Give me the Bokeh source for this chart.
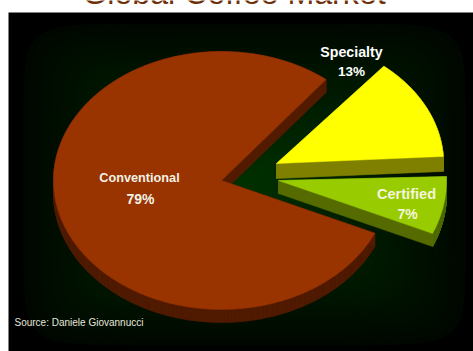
import numpy as np
from bokeh.core.properties import value
from bokeh.embed import file_html
from bokeh.models import ColumnDataSource, Range1d
from bokeh.plotting import figure
from bokeh.resources import INLINE

# Market shares, in percent
categories = ["Conventional", "Specialty", "Certified"]
shares = [79, 13, 7]
share_labels = ["79%", "13%", "7%"]
title_text = "Global Coffee Market"
source_text = "Source: Daniele Giovannucci"

W, H = 473, 351
FONT = value("Liberation Sans")

# Projected pie: each slice has its own apex (exploded), radii, start angle and wall height
slice_style = {
    "Conventional": dict(apex=(221, 180), rx=168, ry=129, start=51.5, depth=13, top="#993300", side="#521b00"),
    "Specialty": dict(apex=(276, 163), rx=167, ry=127, start=50.0, depth=15, top="#ffff00", side="#808000"),
    "Certified": dict(apex=(278, 180), rx=168, ry=133, start=1.7, depth=13, top="#99cc00", side="#556b00"),
}

p = figure(width=W, height=H, x_range=Range1d(0, W), y_range=Range1d(H, 0),
           output_backend="svg", toolbar_location=None, min_border=0,
           background_fill_color="white", border_fill_color="white", outline_line_color=None)
p.axis.visible = False
p.grid.visible = False

# Dark panel with a soft green glow towards the middle, built from nested rectangular bands
p.quad(left=[8], right=[W], top=[12], bottom=[H], fill_color="black", line_color=None)
cx, cy, hw, hh = 244, 184, 221, 161
t = np.linspace(0, 2 * np.pi, 160)
BANDS = 40
for i in range(BANDS):
    f = 1 - i / BANDS
    gx = cx + hw * f * np.sign(np.cos(t)) * np.abs(np.cos(t)) ** 0.22
    gy = cy + hh * f * np.sign(np.sin(t)) * np.abs(np.sin(t)) ** 0.22
    g = int(7 + 42 * (1 - f) ** 0.9)
    p.patch(gx, gy, fill_color=f"#00{g:02x}00", line_color=None)


def outline(style, sweep):
    """Boundary of a slice on the squashed pie, apex first."""
    ax, ay = style["apex"]
    step = 1 if sweep > 180 else -1
    theta = np.radians(np.linspace(style["start"], style["start"] + step * sweep, 360))
    return (np.r_[ax, ax + style["rx"] * np.cos(theta)], np.r_[ay, ay - style["ry"] * np.sin(theta)])


# Side walls first, then the top faces above them
for cat, share in zip(categories, shares):
    st = slice_style[cat]
    xs, ys = outline(st, 3.6 * share)
    nx, ny = np.roll(xs, -1), np.roll(ys, -1)
    d = st["depth"]
    src = ColumnDataSource(dict(
        xs=[[a, b, b, a] for a, b in zip(xs, nx)],
        ys=[[c, e, e + d, c + d] for c, e in zip(ys, ny)],
    ))
    p.patches("xs", "ys", source=src, fill_color=st["side"], line_color=st["side"], line_width=0.6)
    p.patch(xs, ys, fill_color=st["top"], line_color=st["top"], line_width=0.5)

# Slice labels
name_pos = {"Conventional": (139, 177), "Specialty": (351, 51), "Certified": (406, 193)}
pct_pos = {"Conventional": (140, 198), "Specialty": (351, 71), "Certified": (407, 213)}
text_col = {"Conventional": "#f2f2e6", "Specialty": "#ffffff", "Certified": "#f5f5dc"}
name_size = {"Conventional": "12.7px", "Specialty": "14.2px", "Certified": "14.6px"}
pct_size = {"Conventional": "14px", "Specialty": "13.5px", "Certified": "14px"}
for cat, lab in zip(categories, share_labels):
    p.text([name_pos[cat][0]], [name_pos[cat][1]], text=[cat], text_font=FONT, text_font_style="bold",
           text_font_size=name_size[cat], text_color=text_col[cat], text_align="center", text_baseline="middle")
    p.text([pct_pos[cat][0]], [pct_pos[cat][1]], text=[lab], text_font=FONT, text_font_style="bold",
           text_font_size=pct_size[cat], text_color=text_col[cat], text_align="center", text_baseline="middle")

p.text([14], [322], text=[source_text], text_font=FONT, text_font_size="10px",
       text_color="#e6e6dc", text_align="left", text_baseline="middle")

# Heading, running off the top edge of the page
p.text([233.5], [-8], text=[title_text], text_font=FONT, text_font_size="32.2px",
       text_color="#6e3008", text_align="center", text_baseline="alphabetic")

open("out.html", "w").write(file_html(p, INLINE))
